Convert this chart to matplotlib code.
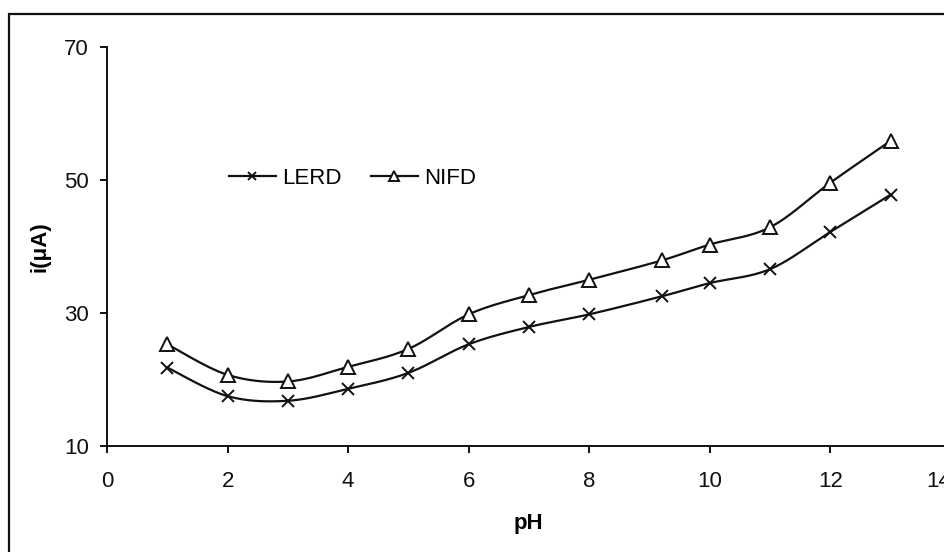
import numpy as np
import matplotlib
matplotlib.use('Agg')
import matplotlib.pyplot as plt
from matplotlib.patches import Rectangle
from matplotlib.transforms import ScaledTranslation

plt.rcParams['font.family'] = ['Liberation Sans', 'DejaVu Sans']

ph = [1, 2, 3, 4, 5, 6, 7, 8, 9.2, 10, 11, 12, 13]
lerd = [21.8, 17.5, 16.8, 18.6, 21.0, 25.3, 27.9, 29.8, 32.5, 34.5, 36.6, 42.2, 47.8]
nifd = [25.3, 20.7, 19.7, 21.9, 24.6, 29.8, 32.7, 35.0, 37.9, 40.3, 42.9, 49.6, 55.9]


def smooth(x, y, n=30):
    # excel style smoothed line (bezier, tension 1/6)
    x = np.asarray(x, float)
    y = np.asarray(y, float)
    px = np.concatenate([[x[0]], x, [x[-1]]])
    py = np.concatenate([[y[0]], y, [y[-1]]])
    t = np.linspace(0, 1, n)
    xs, ys = [], []
    for i in range(1, len(px) - 2):
        x0, y0 = px[i], py[i]
        x3, y3 = px[i + 1], py[i + 1]
        x1 = x0 + (px[i + 1] - px[i - 1]) / 6
        y1 = y0 + (py[i + 1] - py[i - 1]) / 6
        x2 = x3 - (px[i + 2] - px[i]) / 6
        y2 = y3 - (py[i + 2] - py[i]) / 6
        b = [(1 - t) ** 3, 3 * (1 - t) ** 2 * t, 3 * (1 - t) * t ** 2, t ** 3]
        xs.append(b[0] * x0 + b[1] * x1 + b[2] * x2 + b[3] * x3)
        ys.append(b[0] * y0 + b[1] * y1 + b[2] * y2 + b[3] * y3)
    return np.concatenate(xs), np.concatenate(ys)


fig = plt.figure(figsize=(9.44, 5.52), dpi=100)
ax = fig.add_axes([107 / 944, 1 - 446 / 552, 844 / 944, 399 / 552])

col = '#111111'
sx, sy = smooth(ph, lerd)
l1, = ax.plot(sx, sy, color=col, lw=1.6)
m1, = ax.plot(ph, lerd, ls='none', marker='x', ms=8, mew=1.4, color=col)
sx, sy = smooth(ph, nifd)
l2, = ax.plot(sx, sy, color=col, lw=1.6)
m2, = ax.plot(ph, nifd, ls='none', marker='^', ms=10, mew=1.4, color=col,
              markerfacecolor='white')

ax.set_xlim(0, 14)
ax.set_ylim(10, 70)
ax.set_xticks(range(0, 15, 2))
ax.set_yticks([10, 30, 50, 70])
for s in ['top', 'right']:
    ax.spines[s].set_visible(False)
for s in ['left', 'bottom']:
    ax.spines[s].set_linewidth(1.4)
    ax.spines[s].set_color(col)
ax.tick_params(direction='out', length=5, width=1.4, labelsize=16, colors=col)
ax.tick_params(axis='y', pad=8)
ax.tick_params(axis='x', pad=13)

# the last x label sits a bit inside, like the original
fig.canvas.draw()
lab14 = ax.get_xticklabels()[-1]
lab14.set_transform(lab14.get_transform() +
                    ScaledTranslation(-0.12, 0, fig.dpi_scale_trans))

leg = ax.legend([(l1, m1), (l2, m2)], ['LERD', 'NIFD'], ncol=2, frameon=False,
                fontsize=16, handlelength=2.1, handletextpad=0.3,
                columnspacing=1.3, markerscale=0.75, loc='center left',
                bbox_to_anchor=(0.121, 0.67))

fig.text(528 / 944, 1 - 524 / 552, 'pH', fontsize=16, fontweight='bold',
         ha='center', va='center')
fig.text(40 / 944, 1 - 247 / 552, 'i(\u03bcA)', fontsize=16, fontweight='bold',
         rotation=90, ha='center', va='center')

fig.patches.append(Rectangle((9 / 944, -0.1), 1.2, 1 - 14 / 552 + 0.1,
                             transform=fig.transFigure, fill=False,
                             lw=1.6, ec=col))

fig.savefig('out.png', dpi=100)
